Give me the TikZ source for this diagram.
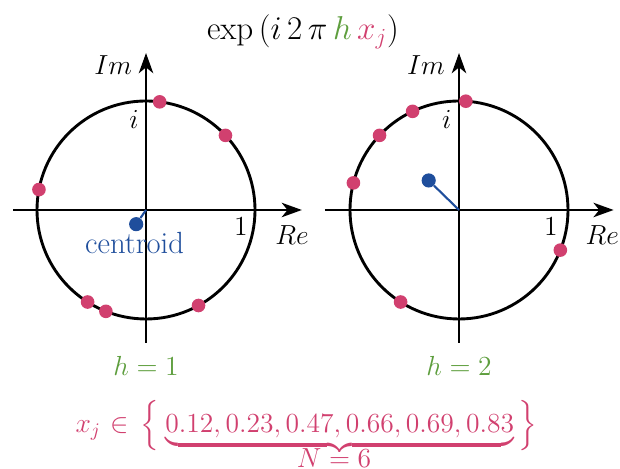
\documentclass[tikz,border=0pt]{standalone}
\usepackage{amsmath,amssymb}
\usepackage{xcolor}
\usetikzlibrary{arrows.meta,calc}
\definecolor{xpink}{HTML}{D1406F}
\definecolor{hgreen}{HTML}{5E9E3E}
\definecolor{cblue}{HTML}{1F4E9C}
\tikzset{
  unit/.style={draw=black, line width=1.5pt},
  ax/.style={draw=black, line width=1.4pt, -{Stealth[length=10.5pt,width=7.5pt,inset=3pt]}},
  pt/.style={circle, fill=xpink, minimum size=0.25cm, inner sep=0pt},
  cen/.style={circle, fill=cblue, minimum size=0.26cm, inner sep=0pt},
  cl/.style={draw=cblue, line width=1.1pt},
  lbl/.style={font=\fontsize{14}{17}\selectfont, inner sep=0pt, anchor=base},
  big/.style={font=\fontsize{16.8}{20}\selectfont},
  dat/.style={font=\fontsize{14.6}{18}\selectfont, text=xpink},
  phasor/.style={scale=1}
}

\begin{document}
\begin{tikzpicture}[phasor]
  \useasboundingbox (-2.679,-4.752) rectangle (8.697,3.853);
  % h = 1
  \coordinate (o1) at (0,0);
  \coordinate (w1) at (-2.44,0);
  \coordinate (e1) at (2.86,0);
  \coordinate (s1) at (0,-2.44);
  \coordinate (n1) at (0,2.88);
  \draw[unit] (o1) circle (2);
  \draw[ax] (w1) -- (e1);
  \draw[ax] (s1) -- (n1);
  \node[cen] (c1) at (-0.18,-0.26) {};
  \draw[cl] (o1) -- (c1);
  \node[pt] (a1) at (43.2:2) {};
  \node[pt] (a2) at (82.8:2) {};
  \node[pt] (a3) at (169.2:2) {};
  \node[pt] (a4) at (237.6:2) {};
  \node[pt] (a5) at (248.4:2) {};
  \node[pt] (a6) at (298.8:2) {};
  \node[lbl, anchor=base east] (im1) at (-0.25,2.48) {$Im$};
  \node[lbl] (i1) at (-0.22,1.50) {$i$};
  \node[lbl] (one1) at (1.74,-0.46) {$1$};
  \node[lbl] (re1) at (2.68,-0.64) {$Re$};
  \node[lbl, text=cblue, font=\fontsize{16}{19}\selectfont] (ctxt) at (-0.21,-0.79) {centroid};
  \node[lbl, text=hgreen] (h1) at (0,-3.03) {$h=1$};
  % h = 2
  \coordinate (o2) at (5.743,0);
  \coordinate (w2) at (3.28,0);
  \coordinate (e2) at (8.58,0);
  \coordinate (s2) at (5.743,-2.44);
  \coordinate (n2) at (5.743,2.88);
  \draw[unit] (o2) circle (2);
  \draw[ax] (w2) -- (e2);
  \draw[ax] (s2) -- (n2);
  \node[cen] (c2) at (5.187,0.542) {};
  \draw[cl] (o2) -- (c2);
  \node[pt] (b1) at ($(o2)+(86.4:2)$) {};
  \node[pt] (b2) at ($(o2)+(165.6:2)$) {};
  \node[pt] (b3) at ($(o2)+(338.4:2)$) {};
  \node[pt] (b4) at ($(o2)+(115.2:2)$) {};
  \node[pt] (b5) at ($(o2)+(136.8:2)$) {};
  \node[pt] (b6) at ($(o2)+(237.6:2)$) {};
  \node[lbl, anchor=base east] (im2) at (5.49,2.48) {$Im$};
  \node[lbl] (i2) at (5.52,1.50) {$i$};
  \node[lbl] (one2) at (7.43,-0.46) {$1$};
  \node[lbl] (re2) at (8.37,-0.64) {$Re$};
  \node[lbl, text=hgreen] (h2) at (5.743,-3.03) {$h=2$};
  % formula and data
  \node[lbl, big] (title) at (2.88,3.12)
    {$\exp\,(i\,2\,\pi\,{\color{hgreen}h}\,{\color{xpink}x_j})$};
  \node[lbl, dat, anchor=base west] (data) at (-1.30,-4.08)
    {$x_j\mkern1mu\in\mkern3mu\Bigl\{\mkern4mu\underbrace{0.12,0.23,0.47,0.66,0.69,0.83}\mkern3mu\Bigr\}$};
  \node[lbl, dat] (nn) at (3.45,-4.73) {$N=6$};
\end{tikzpicture}
\end{document}
